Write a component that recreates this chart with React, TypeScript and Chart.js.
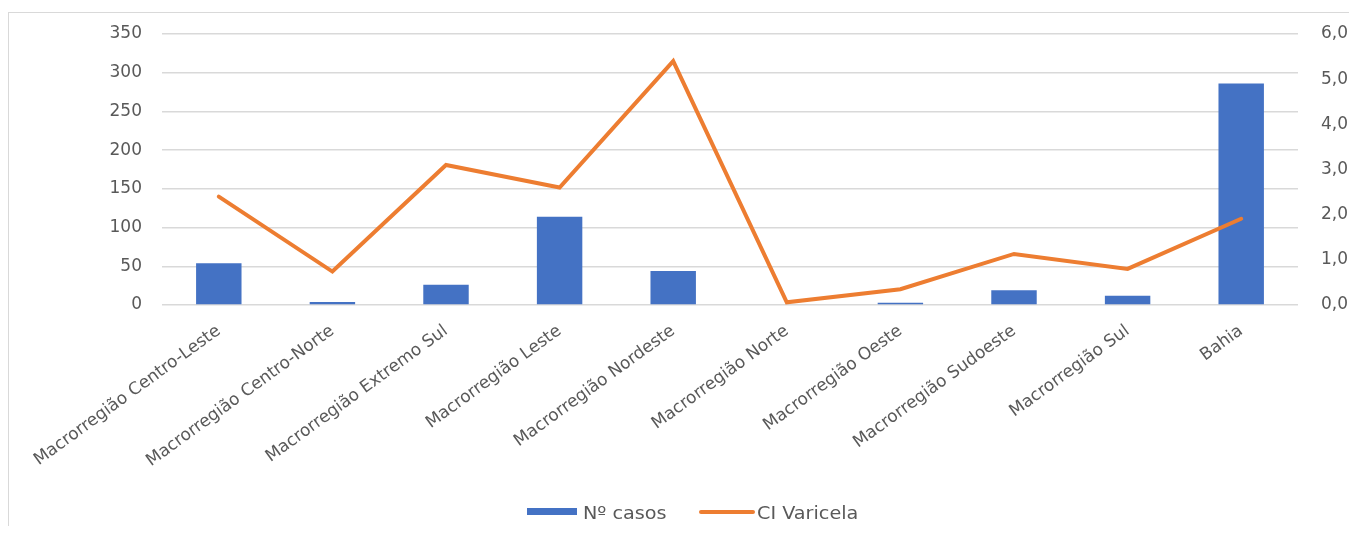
import React, { useEffect, useRef } from "react";
import { Chart, registerables } from "chart.js";

Chart.register(...registerables);

const categories = [
  "Macrorregião Centro-Leste",
  "Macrorregião Centro-Norte",
  "Macrorregião Extremo Sul",
  "Macrorregião Leste",
  "Macrorregião Nordeste",
  "Macrorregião Norte",
  "Macrorregião Oeste",
  "Macrorregião Sudoeste",
  "Macrorregião Sul",
  "Bahia",
];
const casos = [54, 4, 26, 114, 44, 0, 3, 19, 12, 286];
const ciVaricela = [2.4, 0.74, 3.1, 2.6, 5.4, 0.06, 0.35, 1.13, 0.8, 1.91];
const seriesNames = ["Nº casos", "CI Varicela"];
const seriesColors = ["#4472C4", "#ED7D31"];

const FONT = "'DejaVu Sans', 'Open Sans', sans-serif";
const TEXT = "#595959";

export default function App() {
  const ref = useRef<HTMLCanvasElement | null>(null);

  useEffect(() => {
    document.documentElement.style.overflow = "hidden";
    const canvas = ref.current;
    if (!canvas) return;
    const chart = new Chart(canvas, {
      type: "bar",
      data: {
        labels: categories,
        datasets: [
          {
            type: "line",
            label: seriesNames[1],
            data: ciVaricela,
            yAxisID: "y1",
            borderColor: seriesColors[1],
            backgroundColor: seriesColors[1],
            borderWidth: 4,
            pointRadius: 0,
            tension: 0,
            borderCapStyle: "round",
            order: 1,
          } as any,
          {
            type: "bar",
            label: seriesNames[0],
            data: casos,
            yAxisID: "y",
            backgroundColor: seriesColors[0],
            barPercentage: 0.4,
            categoryPercentage: 1,
            order: 2,
          },
        ],
      },
      options: {
        responsive: false,
        animation: false,
        devicePixelRatio: 1,
        layout: { padding: { top: 21, left: 0, right: 0, bottom: 0 } },
        plugins: {
          legend: { display: false },
          tooltip: { enabled: false },
        },
        scales: {
          x: {
            grid: { display: false },
            border: { display: false },
            ticks: {
              color: TEXT,
              font: { family: FONT, size: 17 },
              minRotation: 36,
              maxRotation: 36,
              autoSkip: false,
              padding: 8,
            },
            afterFit: (s: any) => {
              s.height = 224;
              s.paddingLeft = 0;
              s.paddingRight = 0;
            },
          },
          y: {
            position: "left",
            min: 0,
            max: 350,
            ticks: {
              stepSize: 50,
              color: TEXT,
              font: { family: FONT, size: 17 },
              padding: 20,
            },
            grid: { color: "#d9d9d9", lineWidth: 1.5, drawTicks: false },
            border: { display: false },
            afterFit: (s: any) => {
              s.width = 153;
              s.paddingTop = 0;
              s.paddingBottom = 0;
            },
          },
          y1: {
            position: "right",
            min: 0,
            max: 6,
            ticks: {
              stepSize: 1,
              color: TEXT,
              font: { family: FONT, size: 17 },
              padding: 23,
              callback: (v: any) => Number(v).toFixed(1).replace(".", ","),
            },
            grid: { display: false, drawTicks: false },
            border: { display: false },
            afterFit: (s: any) => {
              s.width = 59;
              s.paddingTop = 0;
              s.paddingBottom = 0;
            },
          },
        },
      },
    });
    return () => chart.destroy();
  }, []);

  const legendText = {
    position: "absolute" as const,
    top: 488,
    fontSize: 17,
    lineHeight: "24px",
    color: TEXT,
    whiteSpace: "nowrap" as const,
    transform: "scaleX(1.13)",
    transformOrigin: "left center",
  };

  return (
    <div
      style={{
        position: "relative",
        top: 4,
        width: 1348,
        height: 517,
        borderTop: "1px solid #d9d9d9",
        borderLeft: "1px solid #d9d9d9",
        fontFamily: FONT,
      }}
    >
      <canvas ref={ref} width={1348} height={516} style={{ display: "block", width: 1348, height: 516 }} />
      <div style={{ position: "absolute", left: 518, top: 495, width: 50, height: 7, background: seriesColors[0] }} />
      <div style={{ ...legendText, left: 574 }}>{seriesNames[0]}</div>
      <div style={{ position: "absolute", left: 690, top: 497, width: 56, height: 4, borderRadius: 2, background: seriesColors[1] }} />
      <div style={{ ...legendText, left: 748 }}>{seriesNames[1]}</div>
    </div>
  );
}
